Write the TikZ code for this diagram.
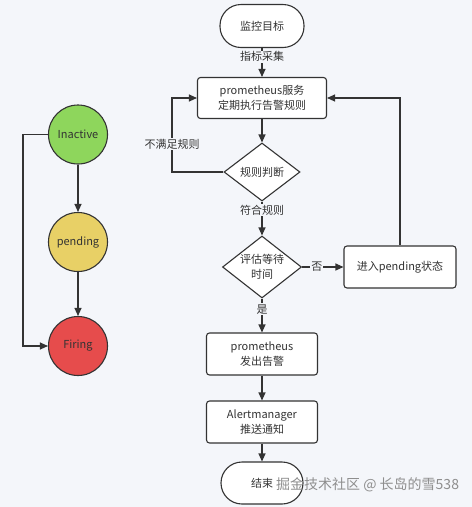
\documentclass[tikz,border=0pt]{standalone}
\usepackage{fontspec}
\setmainfont{Noto Sans CJK SC}
\usetikzlibrary{shapes.geometric,arrows.meta}
\definecolor{bgc}{HTML}{F4F6FA}
\definecolor{linec}{HTML}{333333}
\definecolor{greenc}{HTML}{8ED65C}
\definecolor{yellowc}{HTML}{E8D066}
\definecolor{redc}{HTML}{E64C4C}
\definecolor{wmark}{HTML}{8E8E8E}
\tikzset{
  base/.style={draw=linec, line width=1.1pt, text=linec, font=\fontsize{11}{15}\selectfont, align=center},
  term/.style={base, fill=white, rectangle, rounded corners=21pt, minimum width=84pt, minimum height=43pt},
  procbox/.style={base, fill=white, rectangle, rounded corners=3pt, minimum height=41pt},
  decide/.style={base, fill=white, diamond, inner sep=-2pt},
  state/.style={base, circle, minimum size=59pt, inner sep=0pt},
  arr/.style={draw=linec, line width=1.1pt, -{Triangle[length=8pt,width=7pt]}},
  lbl/.style={fill=bgc, text=linec, font=\fontsize{11}{13}\selectfont, inner sep=1pt}
}
\begin{document}
\begin{tikzpicture}[x=1pt,y=-1pt]
\fill[bgc] (0,0) rectangle (472,507);
\useasboundingbox (0,0) rectangle (472,507);
% flow
\node[term] (t1) at (262,26) {监控目标};
\node[procbox, minimum width=129pt] (b1) at (262,98) {prometheus服务\\定期执行告警规则};
\node[decide, minimum width=76pt, minimum height=58pt] (d1) at (262,172) {规则判断};
\node[decide, minimum width=79pt, minimum height=62pt] (d2) at (262,267) {评估等待\\时间};
\node[procbox, minimum width=112pt, minimum height=42pt] (p) at (400,267) {进入pending状态};
\node[procbox, minimum width=111pt, minimum height=42pt] (b2) at (262,354) {prometheus\\发出告警};
\node[procbox, minimum width=111pt, minimum height=42pt] (b3) at (262,422) {Alertmanager\\推送通知};
\node[term, minimum width=82pt, minimum height=42pt] (t2) at (262,483) {结束};
% states
\node[state, fill=greenc] (c1) at (78,134.5) {Inactive};
\node[state, fill=yellowc] (c2) at (78,242) {pending};
\node[state, fill=redc] (c3) at (78,346) {Firing};
\coordinate (cl) at (172,172);
\coordinate (cs) at (23,134.5);
% connectors
\draw[arr] (t1) -- node[lbl, pos=0.3] {指标采集} (b1);
\draw[arr] (b1) -- (d1);
\draw[arr] (d1.west) -- (cl) |- node[lbl, pos=0.19] {不满足规则} (b1.west);
\draw[arr] (d1) -- node[lbl, pos=0.26] {符合规则} (d2);
\draw[arr] (d2.east) -- node[lbl, pos=0.36] {否} (p.west);
\draw[arr] (p.north) |- (b1.east);
\draw[arr] (d2) -- node[lbl, pos=0.31] {是} (b2);
\draw[arr] (b2) -- (b3);
\draw[arr] (b3) -- (t2);
\draw[arr] (c1) -- (c2);
\draw[arr] (c2) -- (c3);
\draw[arr] (c1.west) -- (cs) |- (c3.west);
% watermark
\node[anchor=west, text=wmark, font=\fontsize{14}{16}\selectfont, inner sep=0pt] (wm) at (276,485) {掘金技术社区 @ 长岛的雪538};
\end{tikzpicture}
\end{document}
